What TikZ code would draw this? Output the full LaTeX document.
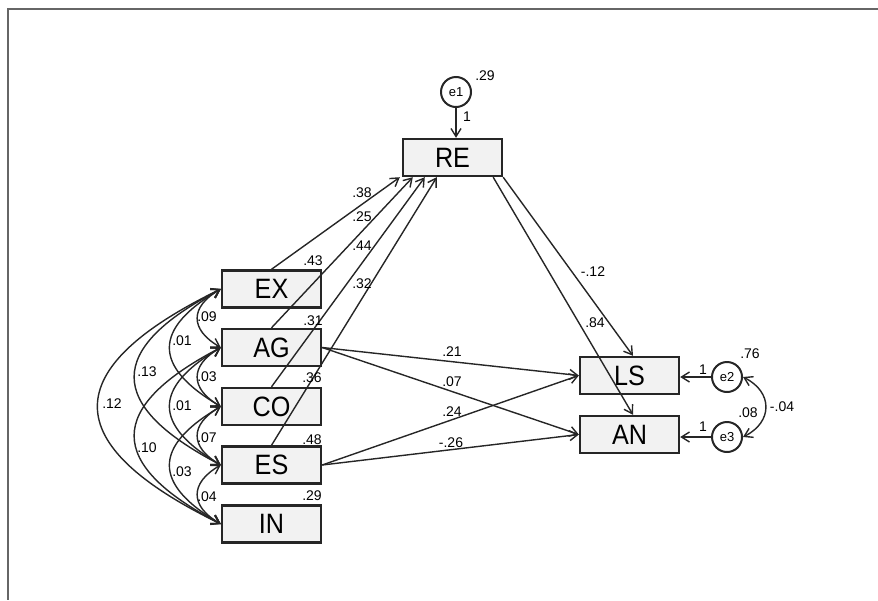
\documentclass[tikz,border=0pt]{standalone}
\usepackage{fontspec}
\setmainfont{Liberation Sans}
\newfontfamily\boxfont[FakeStretch=0.9]{Liberation Sans}
\usetikzlibrary{arrows.meta}
\begin{document}
\begin{tikzpicture}[x=1pt,y=-1pt,
  box/.style={draw=black!85, line width=2.4pt, fill=black!5, minimum width=99pt, minimum height=37pt, inner sep=0pt, font=\boxfont\fontsize{28}{28}\selectfont},
  err/.style={circle, draw=black!85, line width=2pt, minimum size=30pt, inner sep=0pt, font=\fontsize{13}{13}\selectfont},
  lbl/.style={inner sep=0pt, font=\fontsize{14}{14}\selectfont},
  pth/.style={line width=1.4pt, draw=black!85, -{Straight Barb[length=8pt,width=10pt]}},
  cov/.style={line width=1.4pt, draw=black!85, {Straight Barb[length=8pt,width=10pt]}-{Straight Barb[length=8pt,width=10pt]}},
  frame/.style={line width=1.8pt, draw=black!60}]
\useasboundingbox (0,0) rectangle (878,600);
\coordinate (fa) at (878,9);
\coordinate (fb) at (8,9);
\coordinate (fc) at (8,600);
\draw[frame] (fa) -- (fb) -- (fc);

% boxes
\node[box] (EX) at (271.5,289) {EX};
\node[box] (AG) at (271.5,347.5) {AG};
\node[box] (CO) at (271.5,406.5) {CO};
\node[box] (ES) at (271.5,465) {ES};
\node[box] (IN) at (271.5,524) {IN};
\node[box] (RE) at (452.5,157.5) {RE};
\node[box] (LS) at (629.5,375.5) {LS};
\node[box] (AN) at (629.5,434.5) {AN};
\node[err] (e1) at (456,92) {e1};
\node[err] (e2) at (727,377) {e2};
\node[err] (e3) at (727,437) {e3};

% error paths
\draw[pth] (e1) -- (e1 |- RE.north);
\draw[pth] (e2) -- (e2 -| LS.east);
\draw[pth] (e3) -- (e3 -| AN.east);

% paths to RE
\draw[pth] (EX.north) -- ([xshift=-2pt]RE.south west);
\draw[pth] (AG.north) -- ([xshift=11pt]RE.south west);
\draw[pth] (CO.north) -- ([xshift=23pt]RE.south west);
\draw[pth] (ES.north) -- ([xshift=35pt]RE.south west);

% paths from RE
\draw[pth] (RE.south east) -- ([xshift=3.5pt]LS.north);
\draw[pth] ([xshift=-10pt]RE.south east) -- ([xshift=3.5pt]AN.north);

% paths to LS, AN
\draw[pth] (AG.east) -- (LS.west);
\draw[pth] (AG.east) -- (AN.west);
\draw[pth] (ES.east) -- (LS.west);
\draw[pth] (ES.east) -- (AN.west);

% covariances
\draw[cov] (EX.west) .. controls +(-31,18) and +(-31,-18) .. (AG.west);
\draw[cov] (AG.west) .. controls +(-31,18) and +(-31,-18) .. (CO.west);
\draw[cov] (CO.west) .. controls +(-31,18) and +(-31,-18) .. (ES.west);
\draw[cov] (ES.west) .. controls +(-31,18) and +(-31,-18) .. (IN.west);
\draw[cov] (EX.west) .. controls +(-68,40) and +(-68,-40) .. (CO.west);
\draw[cov] (AG.west) .. controls +(-68,40) and +(-68,-40) .. (ES.west);
\draw[cov] (CO.west) .. controls +(-68,40) and +(-68,-40) .. (IN.west);
\draw[cov] (EX.west) .. controls +(-115,60) and +(-115,-60) .. (ES.west);
\draw[cov] (AG.west) .. controls +(-115,60) and +(-115,-60) .. (IN.west);
\draw[cov] (EX.west) .. controls +(-164,80) and +(-164,-80) .. (IN.west);
\draw[cov] (e2.east) .. controls +(30,15) and +(30,-15) .. (e3.east);

% labels
\node[lbl] (v1) at (485,76) {.29};
\node[lbl] (w1) at (467,117) {1};
\node[lbl] (b1) at (362,193) {.38};
\node[lbl] (b2) at (362,217) {.25};
\node[lbl] (b3) at (362,246) {.44};
\node[lbl] (b4) at (362,284) {.32};
\node[lbl] (vEX) at (313,261) {.43};
\node[lbl] (vAG) at (313,321) {.31};
\node[lbl] (vCO) at (312,378) {.36};
\node[lbl] (vES) at (312,440) {.48};
\node[lbl] (vIN) at (312,496) {.29};
\node[lbl] (b5) at (593,272) {-.12};
\node[lbl] (b6) at (595,323) {.84};
\node[lbl] (b7) at (452,352) {.21};
\node[lbl] (b8) at (452,382) {.07};
\node[lbl] (b9) at (452,412) {.24};
\node[lbl] (b10) at (451,443) {-.26};
\node[lbl] (v2) at (750,354) {.76};
\node[lbl] (w2) at (703,370) {1};
\node[lbl] (v3) at (748,413) {.08};
\node[lbl] (w3) at (703,427) {1};
\node[lbl] (c23) at (782,407) {-.04};
\node[lbl] (c1) at (207,317) {.09};
\node[lbl] (c2) at (182,341) {.01};
\node[lbl] (c3) at (147,372) {.13};
\node[lbl] (c4) at (112,404) {.12};
\node[lbl] (c5) at (207,377) {.03};
\node[lbl] (c6) at (182,406) {.01};
\node[lbl] (c7) at (147,448) {.10};
\node[lbl] (c8) at (207,438) {.07};
\node[lbl] (c9) at (182,472) {.03};
\node[lbl] (c10) at (207,497) {.04};
\end{tikzpicture}
\end{document}
